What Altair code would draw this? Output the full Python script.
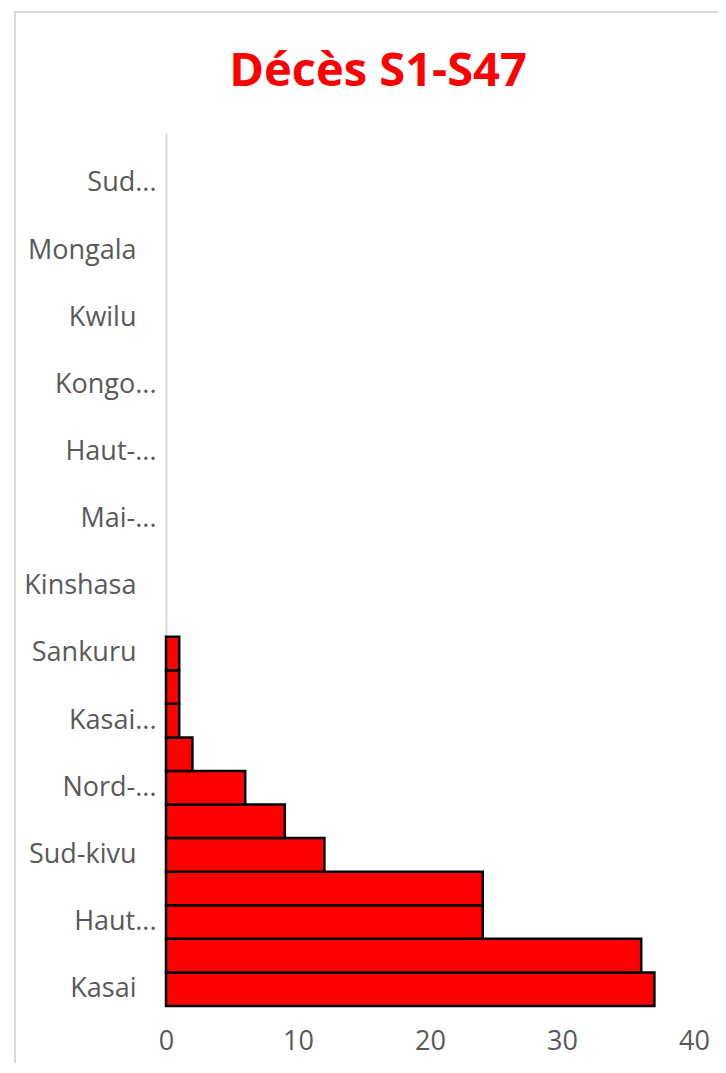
import json
import altair as alt
import pandas as pd

# Provinces from bottom to top of the chart
provinces = [
    "Kasai", "Ituri", "Haut-Katanga", "Lualaba", "Sud-kivu", "Tanganyika",
    "Nord-Kivu", "Lomami", "Kasai-Oriental", "Kasai-Central", "Sankuru",
    "Kwango", "Kinshasa", "Equateur", "Mai-Ndombe", "Maniema", "Haut-Uele",
    "Bas-Uele", "Kongo-Central", "Tshuapa", "Kwilu", "Haut-Lomami",
    "Mongala", "Nord-Ubangi", "Sud-Ubangi", "Tshopo",
]
deces = [37, 36, 24, 24, 12, 9, 6, 2, 1, 1, 1,
         0, 0, 0, 0, 0, 0, 0, 0, 0, 0, 0, 0, 0, 0, 0]
# Labels as displayed (Excel shows every other category, truncated)
tick_labels = [
    "Kasai", "", "Haut...", "", "Sud-kivu", "", "Nord-...", "",
    "Kasai...", "", "Sankuru", "", "Kinshasa", "", "Mai-...", "",
    "Haut-...", "", "Kongo...", "", "Kwilu", "", "Mongala", "",
    "Sud...", "",
]
# labels whose source text carried trailing spaces (sit further left)
spaced = ["Kasai", "Sud-kivu", "Sankuru", "Kinshasa", "Kwilu", "Mongala"]
x_ticks = [0, 10, 20, 30, 40]

df = pd.DataFrame({"province": provinces, "deces": deces})
order = list(reversed(provinces))  # top to bottom

label_expr = "{}[indexof({}, datum.value)]".format(
    json.dumps(tick_labels, ensure_ascii=False),
    json.dumps(provinces, ensure_ascii=False),
)
spaced_test = "indexof({}, datum.value) >= 0".format(json.dumps(spaced))

gray = "#595959"

border = alt.Chart(df).mark_rect(
    fill=None, stroke="#d9d9d9", strokeWidth=2, filled=False
).encode(
    x=alt.value(-151), x2=alt.value(600), y=alt.value(-121), y2=alt.value(980)
)

bars = alt.Chart(df).transform_filter("datum.deces > 0").mark_bar(
    color="#ff0000", stroke="black", strokeWidth=2.5
).encode(
    x=alt.X("deces:Q", scale=alt.Scale(domain=[0, 40], nice=False),
            axis=alt.Axis(values=x_ticks, title=None, grid=False, ticks=False,
                          domain=False, labelPadding=22, labelFontSize=27,
                          labelFlush=False,
                          labelColor=gray, labelFont="Open Sans")),
    y=alt.Y("province:N", scale=alt.Scale(domain=order, paddingInner=0, paddingOuter=0),
            axis=alt.Axis(title=None, ticks=False, labelExpr=label_expr,
                          labelPadding=alt.condition(spaced_test, alt.value(30), alt.value(10)),
                          labelFontSize=27, labelColor=gray,
                          labelFont="Open Sans", domainColor="#d9d9d9",
                          domainWidth=2, grid=False)),
)

chart = alt.layer(border, bars).properties(
    width=528,
    height=873,
    title=alt.TitleParams(
        "Décès S1-S47", color="#ff0000", fontSize=47, font="Open Sans",
        fontWeight="bold", anchor="middle", dx=-52, offset=-122,
        baseline="alphabetic",
    ),
    autosize=alt.AutoSizeParams(type="none"),
    padding={"left": 158, "top": 125, "right": 24, "bottom": 57},
).configure_view(stroke=None)

chart.save("out.html", embed_options={"renderer": "svg", "actions": False})
